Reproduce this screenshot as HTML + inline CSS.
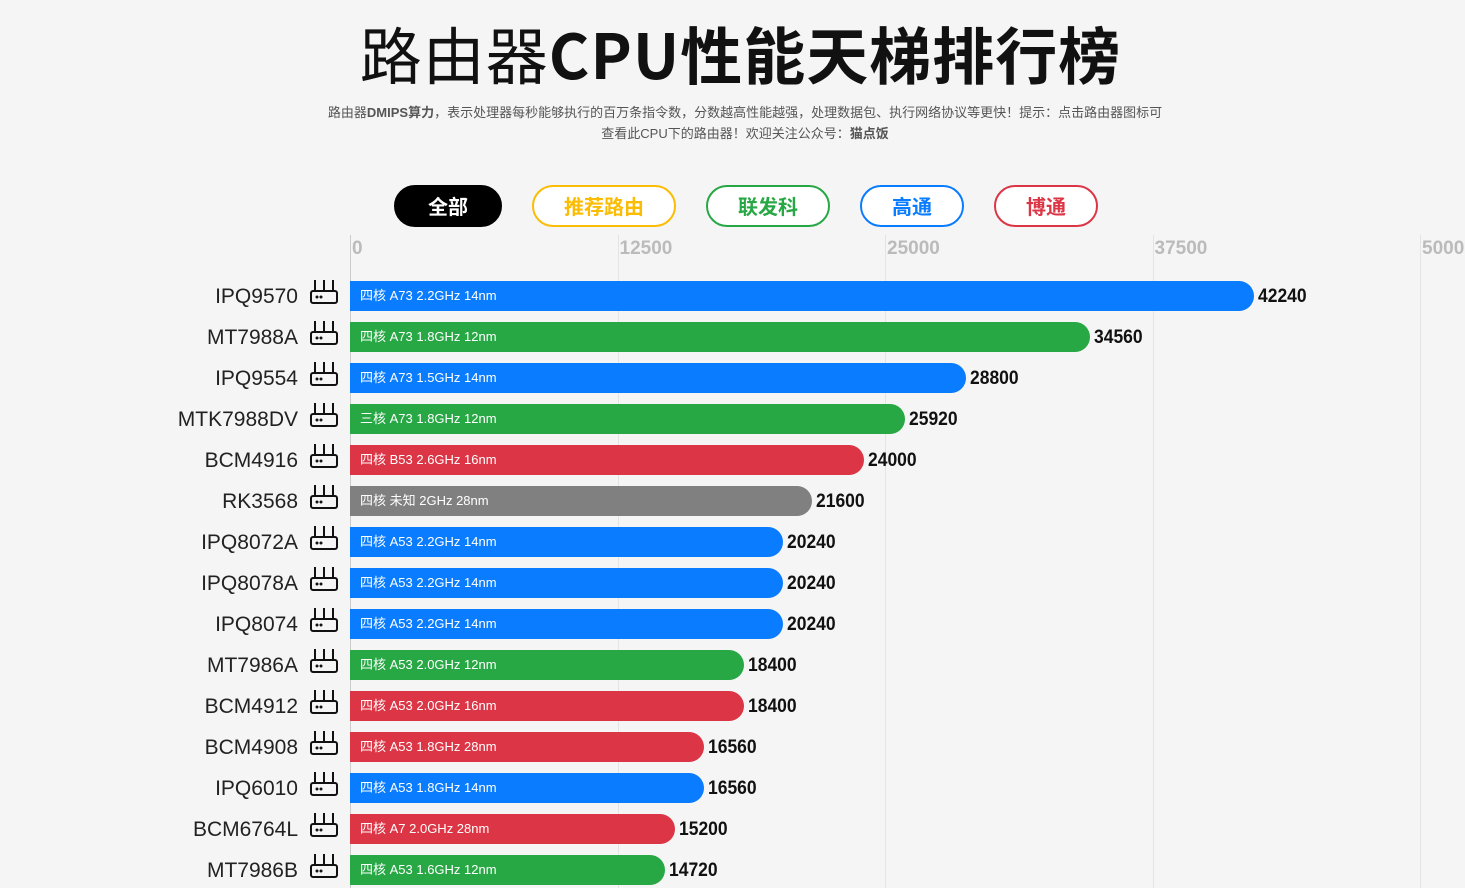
<!DOCTYPE html>
<html><head><meta charset="utf-8"><style>
body{margin:0;width:1465px;height:888px;overflow:hidden;background:#f5f5f5;font-family:"Liberation Sans","Noto Sans CJK SC",sans-serif;position:relative}
.abs{position:absolute}
h1{position:absolute;left:8px;width:1465px;top:12px;margin:0;text-align:center;font-size:62px;font-weight:700;color:#111;font-family:"Noto Sans CJK SC","Liberation Sans",sans-serif;line-height:80px;letter-spacing:1px}
h1 span{font-weight:400}
.sub{left:322px;width:846px;top:102px;text-align:center;font-size:13px;color:#555;line-height:21px}
.btn{top:185px;height:42px;border-radius:22px;border:2px solid;box-sizing:border-box;text-align:center;line-height:38px;font-size:20px;font-weight:700;font-family:"Noto Sans CJK SC",sans-serif;background:#fff}
.tick{top:238px;font-size:19px;color:#bbb;font-weight:700}
.grid{top:235px;width:1px;height:653px;background:#e4e4e4}
.name{width:298px;left:0;text-align:right;font-size:21px;color:#222}
.bar{left:350px;height:30px;border-radius:0 15px 15px 0;color:#fff;font-size:13px;line-height:30px;box-sizing:border-box;padding-left:10px;white-space:nowrap}
.val{font-size:19px;font-weight:700;color:#111;transform:scaleX(0.92);transform-origin:left}
</style></head><body>
<h1><span>路由器</span>CPU性能天梯排行榜</h1>
<div class="abs sub">路由器<b>DMIPS算力</b>，表示处理器每秒能够执行的百万条指令数，分数越高性能越强，处理数据包、执行网络协议等更快！提示：点击路由器图标可查看此CPU下的路由器！欢迎关注公众号：<b>猫点饭</b></div>
<div class="abs btn" style="left:394px;width:108px;background:#000;border-color:#000;color:#fff">全部</div>
<div class="abs btn" style="left:532px;width:144px;border-color:#fbbc05;color:#fbbc05">推荐路由</div>
<div class="abs btn" style="left:706px;width:124px;border-color:#28a745;color:#28a745">联发科</div>
<div class="abs btn" style="left:860px;width:104px;border-color:#0a7cff;color:#0a7cff">高通</div>
<div class="abs btn" style="left:994px;width:104px;border-color:#dc3545;color:#dc3545">博通</div>
<div id="chart"></div>
<script>
const ticks=[0,12500,25000,37500,50000];
const names=["IPQ9570","MT7988A","IPQ9554","MTK7988DV","BCM4916","RK3568","IPQ8072A","IPQ8078A","IPQ8074","MT7986A","BCM4912","BCM4908","IPQ6010","BCM6764L","MT7986B"];
const values=[42240,34560,28800,25920,24000,21600,20240,20240,20240,18400,18400,16560,16560,15200,14720];
const specs=["四核 A73 2.2GHz 14nm","四核 A73 1.8GHz 12nm","四核 A73 1.5GHz 14nm","三核 A73 1.8GHz 12nm","四核 B53 2.6GHz 16nm","四核 未知 2GHz 28nm","四核 A53 2.2GHz 14nm","四核 A53 2.2GHz 14nm","四核 A53 2.2GHz 14nm","四核 A53 2.0GHz 12nm","四核 A53 2.0GHz 16nm","四核 A53 1.8GHz 28nm","四核 A53 1.8GHz 14nm","四核 A7 2.0GHz 28nm","四核 A53 1.6GHz 12nm"];
const vendors=["q","m","q","m","b","r","q","q","q","m","b","b","q","b","m"];
const colors={q:"#0a7cff",m:"#28a745",b:"#dc3545",r:"#808080"};
const x=v=>350+v*(1070/50000);
const yc=i=>296+i*41;
const c=document.getElementById('chart');
function mk(cls,style,txt){const d=document.createElement('div');d.className='abs '+cls;d.style.cssText=style;if(txt!=null)d.textContent=txt;c.appendChild(d);return d;}
ticks.forEach((t,i)=>{
 const g=mk('grid','left:'+x(t)+'px;'+(i==0?'background:#ccc':''));
 
 
 const l=mk('tick','left:'+(x(t)+2)+'px',String(t));
 
 
});
names.forEach((n,i)=>{
 const y=yc(i);
 const nm=mk('name','top:'+(y-11)+'px',n);
 
 
 const ic=mk('','left:309px;top:'+(y-18)+'px;width:30px;height:28px');
 ic.innerHTML='<svg width="30" height="28"><g fill="none" stroke="#111" stroke-width="2"><rect x="2" y="13" width="26" height="12" rx="2"/><line x1="6" y1="2" x2="6" y2="13"/><line x1="15" y1="2" x2="15" y2="13"/><line x1="24" y1="2" x2="24" y2="13"/></g><circle cx="8" cy="19" r="1.5" fill="#111"/><circle cx="12" cy="19" r="1.5" fill="#111"/></svg>';
 
 
 const b=mk('bar','top:'+(y-15)+'px;width:'+(x(values[i])-350)+'px;background:'+colors[vendors[i]],specs[i]);
 
 
 const v=mk('val','left:'+(x(values[i])+4)+'px;top:'+(y-10)+'px',String(values[i]));
 
 
});
</script>
</body></html>
